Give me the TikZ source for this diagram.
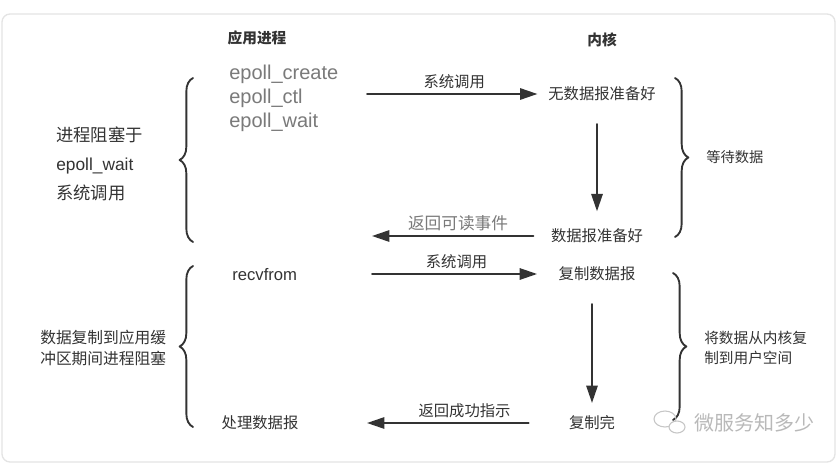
\documentclass[tikz,border=0pt]{standalone}
\usepackage{fontspec}
\setmainfont{Liberation Sans}
\newfontfamily\cjk{Noto Sans CJK SC}
\usetikzlibrary{arrows.meta,decorations.pathreplacing}
\definecolor{ink}{HTML}{333333}
\definecolor{soft}{HTML}{7A7A7A}
\definecolor{frame}{HTML}{E4E4E4}
\begin{document}
\begin{tikzpicture}[x=0.75pt,y=0.75pt,line cap=round,line join=round]
  \tikzset{
    zh/.style={font=\cjk\fontsize{11.5}{14}\selectfont,text=ink,inner sep=5pt},
    head/.style={font=\cjk\bfseries\fontsize{11}{13}\selectfont,text=ink},
    side/.style={text=ink,inner sep=0pt,align=left},
    flow/.style={draw=ink,line width=1.4pt,-{Triangle[length=13pt,width=8.5pt]}},
    curly/.style={draw=ink,line width=1.4pt,decorate,decoration={brace,amplitude=10pt}}
  }
  \useasboundingbox (0,0) rectangle (837,468);
  \draw[frame,fill=white,line width=1pt,rounded corners=6pt] (2,6) rectangle (835,454);
  % column titles
  \node[head] (app) at (257,430) {应用进程};
  \node[head] (kern) at (602,428) {内核};
  % first phase: epoll_wait blocks until data is ready
  \node[side,text=soft,font=\fontsize{15}{18}\selectfont,anchor=west] (calls) at (229,370)
    {epoll\_create\\epoll\_ctl\\epoll\_wait};
  \coordinate (callsout) at (367,374);
  \coordinate (readyback) at (372,232);
  \node[zh] (nodata) at (602,374) {无数据报准备好};
  \node[zh] (ready) at (597,232) {数据报准备好};
  \draw[flow,shorten >=3pt] (callsout) -- node[zh,above,inner sep=3pt] (sys1) {系统调用} (nodata.west);
  \draw[flow,shorten <=12pt,shorten >=8pt] (ready.north |- nodata.south) -- (ready.north);
  \draw[flow,shorten <=8pt] (ready.west) --
    node[zh,above,inner sep=3pt,text=soft,font=\cjk\fontsize{12.5}{15}\selectfont] (evt) {返回可读事件} (readyback);
  \draw[curly] (193,226) -- (193,390);
  \draw[curly] (675,390) -- (675,231);
  \node[side,font=\fontsize{13}{21.75}\selectfont,anchor=west] (wait1) at (56,304)
    {{\cjk 进程阻塞于}\\epoll\_wait\\{\cjk 系统调用}};
  \node[side,font=\cjk\fontsize{10.7}{13}\selectfont,anchor=west] (wait2) at (706,311) {等待数据};
  % second phase: recvfrom copies the datagram
  \node[side,font=\fontsize{12.5}{15}\selectfont,anchor=west] (recv) at (232,193) {recvfrom};
  \coordinate (recvout) at (372,194);
  \coordinate (doneback) at (367,45);
  \node[zh] (copy) at (597,194) {复制数据报};
  \node[zh] (done) at (592,45) {复制完};
  \node[zh] (handle) at (260,45) {处理数据报};
  \draw[flow,shorten >=11pt] (recvout) -- node[zh,above,inner sep=3pt,xshift=-4pt] (sys2) {系统调用} (copy.west);
  \draw[flow,shorten <=12pt,shorten >=4.5pt] (done.north |- copy.south) -- (done.north);
  \draw[flow,shorten <=25pt] (done.west) -- node[zh,above,inner sep=3pt] (ok) {返回成功指示} (doneback);
  \draw[curly] (193,41) -- (193,202);
  \draw[curly] (673,195) -- (673,48);
  \node[side,font=\cjk\fontsize{11.8}{15.75}\selectfont,anchor=west] (copy1) at (40,120.5)
    {数据复制到应用缓\\冲区期间进程阻塞};
  \node[side,font=\cjk\fontsize{11}{15}\selectfont,anchor=west] (copy2) at (704,120)
    {将数据从内核复\\制到用户空间};
  % watermark
  \draw[gray!45,line width=0.8pt] (665,49) ellipse (11 and 8);
  \draw[gray!45,line width=0.8pt,fill=white] (677,41) ellipse (8 and 6);
  \node[side,text=gray!55,font=\cjk\fontsize{15}{18}\selectfont,anchor=west] (mark) at (694,45) {微服务知多少};
\end{tikzpicture}
\end{document}
